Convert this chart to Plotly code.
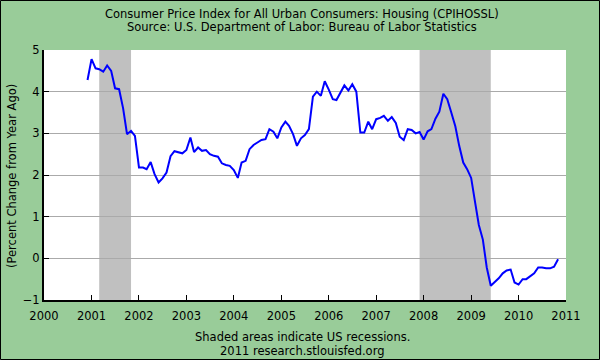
import plotly.graph_objects as go
import pandas as pd

start_month = "2000-12-01"
values = [
    4.28,
    4.78, 4.56, 4.54, 4.48, 4.63, 4.50, 4.08, 4.06, 3.60, 2.98, 3.06, 2.94,
    2.18, 2.18, 2.14, 2.31, 2.02, 1.82, 1.92, 2.06, 2.45, 2.57, 2.54, 2.52,
    2.60, 2.90, 2.55, 2.66, 2.58, 2.60, 2.50, 2.46, 2.44, 2.28, 2.24, 2.22,
    2.12, 1.93, 2.30, 2.34, 2.62, 2.72, 2.78, 2.84, 2.86, 3.10, 3.04, 2.88,
    3.14, 3.28, 3.18, 2.98, 2.70, 2.88, 2.96, 3.10, 3.88, 4.00, 3.90, 4.25,
    4.05, 3.82, 3.80, 3.97, 4.15, 4.03, 4.18, 4.00, 3.02, 3.02, 3.28, 3.10,
    3.34, 3.37, 3.42, 3.30, 3.39, 3.25, 2.92, 2.84, 3.10, 3.08, 3.00, 3.03,
    2.85, 3.05, 3.10, 3.35, 3.52, 3.95, 3.82, 3.50, 3.17, 2.70, 2.30, 2.14,
    1.93, 1.33, 0.80, 0.45, -0.22, -0.66, -0.57, -0.48, -0.36, -0.29, -0.27, -0.58,
    -0.63, -0.50, -0.50, -0.42, -0.36, -0.22, -0.22, -0.24, -0.24, -0.20, -0.02,
]
dates = pd.date_range(start_month, periods=len(values), freq="MS")

recession_starts = ["2001-03-01", "2007-12-01"]
recession_ends = ["2001-11-01", "2009-06-01"]

y_ticks = [-1, 0, 1, 2, 3, 4, 5]
x_tick_labels = [str(y) for y in range(2000, 2012)]
x_tick_vals = [f"{y}-01-01" for y in range(2000, 2012)]

title_1 = "Consumer Price Index for All Urban Consumers: Housing (CPIHOSSL)"
title_2 = "Source: U.S. Department of Labor: Bureau of Labor Statistics"
y_title = "(Percent Change from Year Ago)"
note_1 = "Shaded areas indicate US recessions."
note_2 = "2011 research.stlouisfed.org"

W, H = 600, 360
L, R, T, B = 44, 34, 50, 60
pw, ph = W - L - R, H - T - B

def px_x(x):
    return (x - L) / pw

def px_y(y):
    return (H - B - y) / ph

FONT = "DejaVu Sans"
TXT = dict(family=FONT, size=11.5, color="black")

fig = go.Figure()
fig.add_trace(go.Scatter(x=dates, y=values, mode="lines",
                         line=dict(color="#0000FF", width=2), hoverinfo="skip"))

shapes = []
for s, e in zip(recession_starts, recession_ends):
    shapes.append(dict(type="rect", xref="x", yref="paper", x0=s, x1=e, y0=0, y1=1,
                       fillcolor="#C0C0C0", line=dict(width=0), layer="between"))
shapes.append(dict(type="rect", xref="paper", yref="paper",
                   x0=px_x(0.5), x1=px_x(599.5), y0=px_y(359.5), y1=px_y(0.5),
                   line=dict(color="black", width=1), fillcolor="rgba(0,0,0,0)"))

def note(text, x, y, angle=0):
    return dict(text=text, x=px_x(x), y=px_y(y), xref="paper", yref="paper",
                xanchor="center", yanchor="middle", textangle=angle,
                showarrow=False, font=TXT)

annotations = [
    note(title_1, 302, 14),
    note(title_2, 302, 27),
    note(y_title, 12, 176, -90),
    note(note_1, 302, 337),
    note(note_2, 302, 350.5),
]

fig.update_layout(
    width=W, height=H,
    margin=dict(l=L, r=R, t=T, b=B, pad=0),
    paper_bgcolor="#99CC99",
    plot_bgcolor="white",
    showlegend=False,
    shapes=shapes,
    annotations=annotations,
    font=dict(family=FONT, size=11, color="black"),
    xaxis=dict(range=["2000-01-01", "2011-01-01"], tickvals=x_tick_vals, ticktext=x_tick_labels,
               showgrid=False, zeroline=False, showline=True, linecolor="black", linewidth=2,
               ticks="inside", ticklen=5, tickcolor="black", tickwidth=1, ticklabelstandoff=4,
               tickfont=dict(family=FONT, size=11.5, color="black")),
    yaxis=dict(range=[-1, 5], tickvals=y_ticks, showgrid=True, gridcolor="#AAAAAA", gridwidth=1,
               zeroline=False, showline=True, linecolor="black", linewidth=2,
               ticks="inside", ticklen=5, tickcolor="black", tickwidth=1,
               tickfont=dict(family=FONT, size=11.5, color="black")),
)

fig.write_html("out.html", config={"displayModeBar": False, "staticPlot": True},
               post_script="document.body.style.margin='0';document.body.style.overflow='hidden';")
